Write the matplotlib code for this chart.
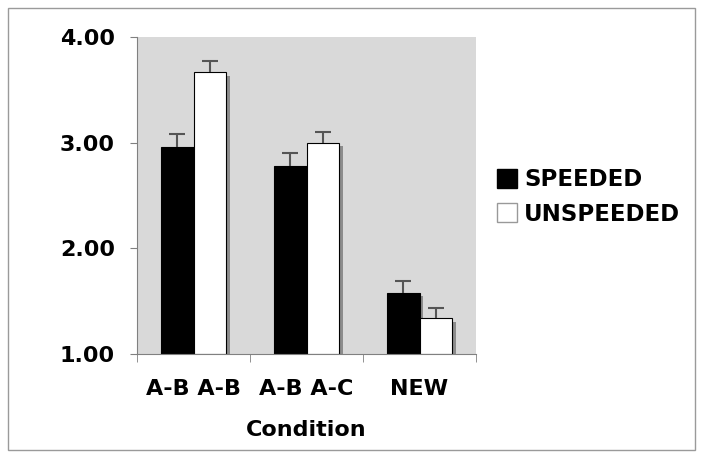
import numpy as np
import matplotlib.pyplot as plt
from matplotlib.patches import Patch, Rectangle

# Values
conditions = ["A-B A-B", "A-B A-C", "NEW"]
speeded = [2.96, 2.78, 1.58]
speeded_err = [0.12, 0.12, 0.11]
unspeeded = [3.67, 3.00, 1.34]
unspeeded_err = [0.10, 0.10, 0.10]

fig = plt.figure(figsize=(7.03, 4.58), dpi=100)
fig.patches.append(Rectangle((8 / 703, 8 / 458), 687 / 703, 442 / 458, transform=fig.transFigure,
                             fill=False, edgecolor='#9a9a9a', linewidth=1))
ax = fig.add_axes([137 / 703, 1 - 354 / 458, 339 / 703, 317 / 458])
ax.set_facecolor('#d9d9d9')

x = np.arange(len(conditions))
w = 0.29
fnt = dict(fontsize=16, fontweight='bold', family='DejaVu Sans')

# drop shadows
for xs, vals in ((x - w / 2, speeded), (x + w / 2, unspeeded)):
    ax.bar(xs + 0.035, np.array(vals) - 1 - 0.035, w, bottom=1, color='#8c8c8c', zorder=1)

ax.bar(x - w / 2, np.array(speeded) - 1, w, bottom=1, color='black', edgecolor='black',
       linewidth=0.8, zorder=2)
ax.bar(x + w / 2, np.array(unspeeded) - 1, w, bottom=1, color='white', edgecolor='black',
       linewidth=0.8, zorder=2)
for xs, vals, errs in ((x - w / 2, speeded, speeded_err), (x + w / 2, unspeeded, unspeeded_err)):
    eb = ax.errorbar(xs, vals, yerr=[np.zeros(3), errs], fmt='none', ecolor='#555555',
                     elinewidth=1.5, capsize=6, capthick=1.5, zorder=3)
    eb[1][0].set_visible(False)  # hide the lower cap

ax.set_xlim(-0.5, 2.5)
ax.set_ylim(1, 4)
ax.set_yticks([1, 2, 3, 4])
ax.set_yticklabels([f"{v:.2f}" for v in [1, 2, 3, 4]], **fnt)
ax.set_xticks(x)
ax.set_xticklabels(conditions, **fnt)
ax.tick_params(axis='x', length=0, pad=18)
ax.tick_params(axis='y', length=5, color='#808080', pad=11)
ax.set_xticks([-0.5, 0.5, 1.5, 2.5], minor=True)
ax.tick_params(axis='x', which='minor', length=6, color='#808080')
ax.set_xlabel("Condition", labelpad=15, **fnt)

for s in ('top', 'right'):
    ax.spines[s].set_visible(False)
for s in ('left', 'bottom'):
    ax.spines[s].set_color('#808080')

handles = [Patch(facecolor='black', edgecolor='black'),
           Patch(facecolor='white', edgecolor='#999999')]
fig.legend(handles, ["SPEEDED", "UNSPEEDED"], loc='center left',
           bbox_to_anchor=(476 / 703, 1 - 197 / 458), frameon=False,
           prop=dict(size=16.5, weight='bold', family='DejaVu Sans'),
           handlelength=0.9, handleheight=0.9, handletextpad=0.3, labelspacing=0.5)

fig.savefig("out.png", dpi=100)
